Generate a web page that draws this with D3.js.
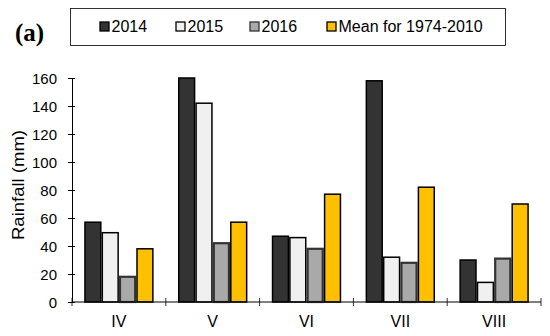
<!DOCTYPE html>
<html><head><meta charset="utf-8">
<script src="https://cdn.jsdelivr.net/npm/d3@7"></script>
<style>body{margin:0;background:#fff}svg{display:block}</style>
</head><body><svg id="c" width="550" height="336"></svg>
<script>
const categories = ["IV","V","VI","VII","VIII"];
const seriesNames = ["2014","2015","2016","Mean for 1974-2010"];
const v2014 = [57,160,47,158,30];
const v2015 = [49.5,142,46,32,14];
const v2016 = [18,42,38,28,31];
const vMean = [38,57,77,82,70];
const yTicks = [0,20,40,60,80,100,120,140,160];

const series = [v2014,v2015,v2016,vMean];
const fills = ["#333333","#f0f0f0","#a9a9a9","#ffc000"];
const strokes = ["#000","#000","#333","#000"];
const strokeW = [1.5,1.5,2.2,1.5];

const svg = d3.select("#c");
const m = {l:72, r:541, t:78, b:302};
const x = d3.scaleBand().domain(categories).range([m.l,m.r]).paddingInner(0.26).paddingOuter(0.13);
const xs = d3.scaleBand().domain(d3.range(4)).range([0,x.bandwidth()]);
const y = d3.scaleLinear().domain([0,160]).range([m.b,m.t]);
const font = "Arial, 'Liberation Sans', sans-serif";

// bars
series.forEach((vals,si)=>{
  svg.append("g").selectAll("rect").data(vals).join("rect")
    .attr("x",(d,i)=>x(categories[i])+xs(si)+strokeW[si]/2)
    .attr("y",d=>y(d))
    .attr("width",xs.bandwidth()-strokeW[si])
    .attr("height",d=>y(0)-y(d))
    .attr("fill",fills[si]).attr("stroke",strokes[si]).attr("stroke-width",strokeW[si]);
});

// y axis
const ya = svg.append("g").attr("transform",`translate(${m.l},0)`)
  .call(d3.axisLeft(y).tickValues(yTicks).tickSize(4).tickSizeOuter(0).tickPadding(11));
ya.select(".domain").attr("stroke","#000");
ya.selectAll(".tick line").attr("x2",-4).attr("x1",3).attr("stroke","#000");
ya.selectAll("text").attr("font-family",font).attr("font-size",15).attr("fill","#000").attr("dy","0.35em");

// x axis line and boundary ticks
const xa = svg.append("g");
xa.append("line").attr("x1",m.l).attr("x2",m.r).attr("y1",y(0)).attr("y2",y(0)).attr("stroke","#000");
const step = (m.r-m.l)/categories.length;
d3.range(categories.length+1).forEach(i=>{
  xa.append("line").attr("x1",m.l+i*step).attr("x2",m.l+i*step).attr("y1",y(0)-4).attr("y2",y(0)+4).attr("stroke","#000").attr("stroke-width",0.8);
});
xa.selectAll("text.cl").data(categories).join("text").attr("class","cl")
  .attr("x",d=>x(d)+x.bandwidth()/2).attr("y",327)
  .attr("text-anchor","middle").attr("font-family",font).attr("font-size",16).text(d=>d);

// y label
svg.append("text").attr("transform","translate(24,185) rotate(-90)")
  .attr("text-anchor","middle").attr("font-family",font).attr("font-size",16.5)
  .attr("textLength",110).attr("lengthAdjust","spacingAndGlyphs").text("Rainfall (mm)");

// (a)
svg.append("text").attr("x",15).attr("y",41).attr("font-family","'Liberation Serif','DejaVu Serif',serif")
  .attr("font-weight","bold").attr("font-size",25).text("(a)");

// legend
svg.append("rect").attr("x",70.5).attr("y",8.5).attr("width",435).attr("height",37)
  .attr("fill","#fff").attr("stroke","#000").attr("stroke-width",0.8);
const legX = [100,176,250,327];
seriesNames.forEach((n,i)=>{
  svg.append("rect").attr("x",legX[i]).attr("y",22).attr("width",9).attr("height",9)
    .attr("fill",fills[i]).attr("stroke",strokes[i]).attr("stroke-width",1.3);
  svg.append("text").attr("x",legX[i]+11.5).attr("y",32).attr("font-family",font).attr("font-size",16).text(n);
});
</script></body></html>
